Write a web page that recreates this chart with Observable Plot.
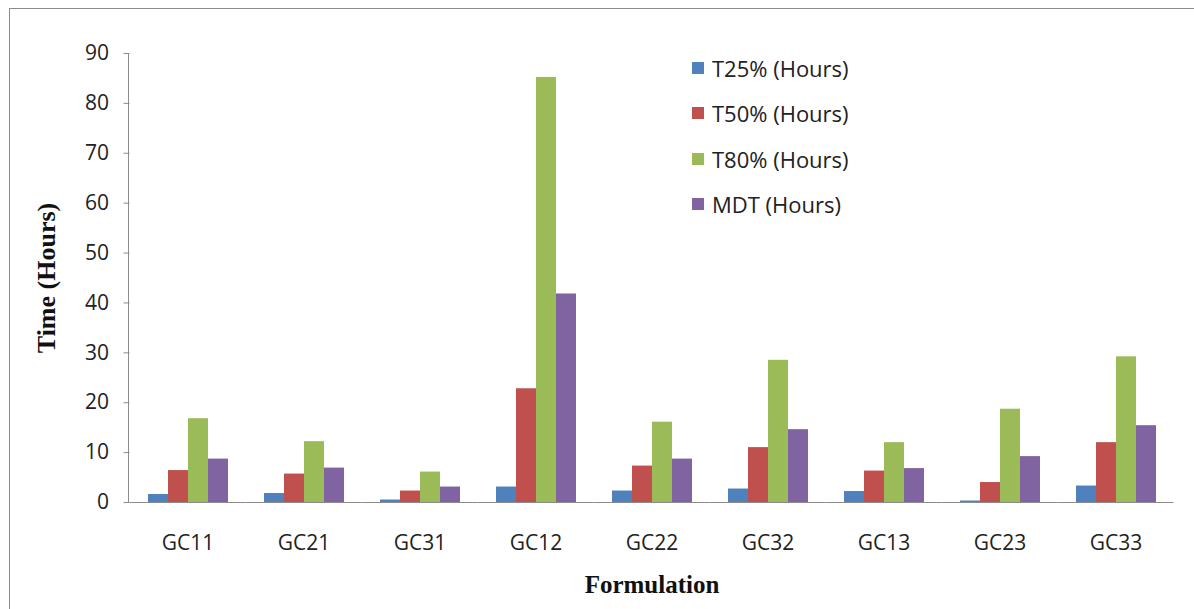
<!DOCTYPE html>
<html>
<head>
<meta charset="utf-8">
<script src="https://cdn.jsdelivr.net/npm/d3@7"></script>
<script src="https://cdn.jsdelivr.net/npm/@observablehq/plot@0.6"></script>
<style>
  body { margin: 0; background: #fff; }
  #wrap { position: relative; width: 1194px; height: 609px; overflow: hidden; background: #fff; }
  #frame { position: absolute; left: 9px; top: 8px; width: 1200px; height: 620px; border: 1px solid #8c8c8c; box-sizing: border-box; }
  #chart { position: absolute; left: 0; top: 0; }
  .ylab { position: absolute; left: 47px; top: 278px; transform: translate(-50%, -50%) rotate(-90deg); font: bold 26px "Liberation Serif", serif; color: #111; white-space: nowrap; }
  .xlab { position: absolute; left: 652px; top: 585px; transform: translate(-50%, -50%); font: bold 25px "Liberation Serif", serif; color: #111; white-space: nowrap; }
  #legend { position: absolute; left: 692px; top: 45.5px; font: 22px "Open Sans", "Liberation Sans", sans-serif; color: #222; }
  #legend .item { display: flex; align-items: center; height: 45.3px; }
  #legend .sw { width: 12px; height: 12px; margin-right: 8px; }
</style>
</head>
<body>
<div id="wrap">
  <div id="frame"></div>
  <div id="chart"></div>
  <div class="ylab">Time (Hours)</div>
  <div class="xlab">Formulation</div>
  <div id="legend"></div>
</div>
<script>
const formulations = ["GC11", "GC21", "GC31", "GC12", "GC22", "GC32", "GC13", "GC23", "GC33"];
const series = ["T25% (Hours)", "T50% (Hours)", "T80% (Hours)", "MDT (Hours)"];
const colors = ["#4F81BD", "#C0504D", "#9BBB59", "#8064A2"];
const t25 = [1.6, 1.8, 0.5, 3.1, 2.3, 2.7, 2.2, 0.3, 3.3];
const t50 = [6.4, 5.7, 2.3, 22.8, 7.3, 11.0, 6.3, 4.0, 12.0];
const t80 = [16.8, 12.2, 6.1, 85.2, 16.1, 28.5, 12.0, 18.7, 29.2];
const mdt = [8.7, 6.9, 3.1, 41.8, 8.7, 14.6, 6.8, 9.2, 15.4];
const yTicks = [0, 10, 20, 30, 40, 50, 60, 70, 80, 90];

const values = [t25, t50, t80, mdt];
const data = [];
formulations.forEach((f, i) => {
  series.forEach((s, j) => data.push({f, s, v: values[j][i]}));
});

const marginLeft = 128;
const chart = Plot.plot({
  width: 1194,
  height: 609,
  marginLeft,
  marginRight: 18,
  marginTop: 53,
  marginBottom: 107,
  style: {fontFamily: "'Open Sans', 'Liberation Sans', sans-serif", fontSize: "21px", color: "#222", background: "transparent"},
  facet: {data, x: "f"},
  fx: {domain: formulations, paddingInner: 0.3, paddingOuter: 0.15, label: null, axis: "bottom", tickSize: 0, tickPadding: 33},
  x: {domain: series, axis: null, padding: 0},
  y: {domain: [0, 90], ticks: yTicks, tickSize: 6, tickPadding: 15, label: null, line: false},
  color: {domain: series, range: colors},
  marks: [
    Plot.barY(data, {x: "s", y: "v", fill: "s"}),
    Plot.ruleY([0], {stroke: "#8c8c8c", insetLeft: -17.5, insetRight: -17.5})
  ]
});
// move y axis from the first facet's edge to the plot's left margin, and grey its lines
const yAxes = Array.from(chart.querySelectorAll("g[aria-label^='y-axis']"))
  .filter(g => !(g.parentElement && g.parentElement.closest("g[aria-label^='y-axis']")));
yAxes.forEach(g => {
  const prev = g.getAttribute("transform") || "";
  g.setAttribute("transform", prev + " translate(-17.47,0)");
  g.style.color = "#8c8c8c";
  g.querySelectorAll("text").forEach(t => t.setAttribute("fill", "#222"));
});
// y-axis line at the plot's left margin, spanning the y scale's range
const yr = chart.scale("y").range;
d3.select(chart).append("line")
  .attr("x1", marginLeft + 0.5).attr("x2", marginLeft + 0.5)
  .attr("y1", yr[0]).attr("y2", yr[1])
  .attr("stroke", "#8c8c8c");
document.getElementById("chart").appendChild(chart);

const legend = document.getElementById("legend");
series.forEach((s, j) => {
  const it = document.createElement("div");
  it.className = "item";
  it.innerHTML = `<div class="sw" style="background:${colors[j]}"></div><span>${s}</span>`;
  legend.appendChild(it);
});
</script>
</body>
</html>
